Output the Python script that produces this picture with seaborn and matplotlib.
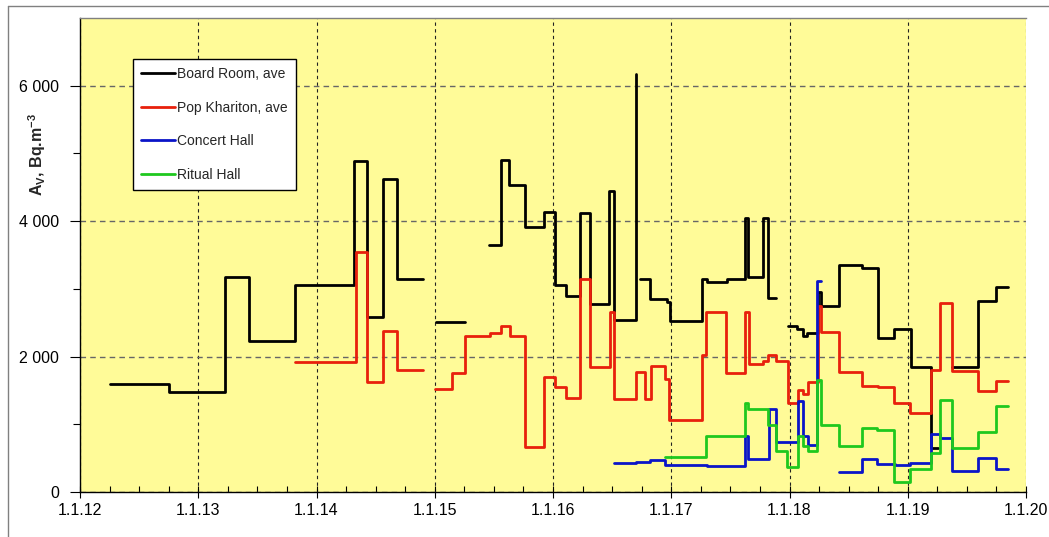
import numpy as np
import pandas as pd
import matplotlib
matplotlib.use("Agg")
import matplotlib.pyplot as plt
import seaborn as sns
from matplotlib.lines import Line2D

nan = np.nan

# ---- data (decimal years; NaN marks a gap between measuring periods) ----
board_t = [2012.25, 2012.75, 2013.23, 2013.43, 2013.82, 2014.32, 2014.43, 2014.56, 2014.68, 2014.90, nan,
           2015.01, 2015.26, nan,
           2015.46, 2015.56, 2015.63, 2015.76, 2015.92, 2016.02, 2016.11, 2016.23, 2016.31, 2016.47,
           2016.52, 2016.70, 2016.705, nan,
           2016.735, 2016.82, 2016.96, 2016.99, 2017.26, 2017.30, 2017.47, 2017.62, 2017.65, 2017.78,
           2017.82, 2017.89, nan,
           2017.99, 2018.06, 2018.11, 2018.15, 2018.24, 2018.27, 2018.42, 2018.61, 2018.75, 2018.88,
           2019.03, 2019.20, 2019.26, nan,
           2019.37, 2019.59, 2019.75, 2019.85]
board_v = [1600, 1475, 3180, 2230, 3060, 4890, 2590, 4620, 3140, 3140, nan,
           2510, 2510, nan,
           3655, 4900, 4530, 3920, 4130, 3050, 2900, 4120, 2770, 4450,
           2540, 6170, 6170, nan,
           3140, 2850, 2800, 2530, 3140, 3100, 3140, 4050, 3180, 4050,
           2870, 2870, nan,
           2450, 2410, 2300, 2350, 2960, 2750, 3350, 3310, 2280, 2410,
           1840, 650, 650, nan,
           1840, 2820, 3030, 3030]

pop_t = [2013.82, 2014.33, 2014.43, 2014.56, 2014.68, 2014.90, nan,
         2015.00, 2015.15, 2015.26, 2015.47, 2015.56, 2015.64, 2015.76, 2015.92, 2016.02, 2016.11,
         2016.23, 2016.31, 2016.48, 2016.52, 2016.70, 2016.78, 2016.83, 2016.95, 2016.98, 2017.26,
         2017.29, 2017.46, 2017.62, 2017.66, 2017.78, 2017.82, 2017.89, 2017.99, 2018.07, 2018.11,
         2018.16, 2018.24, 2018.27, 2018.42, 2018.61, 2018.75, 2018.88, 2019.02, 2019.20, 2019.27,
         2019.37, 2019.59, 2019.75, 2019.85]
pop_v = [1920, 3550, 1620, 2380, 1800, 1800, nan,
         1520, 1755, 2310, 2350, 2455, 2310, 670, 1695, 1545, 1385,
         3140, 1840, 2660, 1370, 1770, 1370, 1860, 1665, 1070, 2020,
         2660, 1755, 2660, 1890, 1930, 2020, 1930, 1310, 1500, 1440,
         1620, 2750, 2360, 1770, 1560, 1545, 1320, 1170, 1800, 2790,
         1790, 1490, 1640, 1640]

concert_t = [2016.52, 2016.70, 2016.82, 2016.95, 2017.30, 2017.62, 2017.65, 2017.83, 2017.89, 2018.07,
             2018.11, 2018.16, 2018.23, 2018.27, nan,
             2018.42, 2018.61, 2018.74, 2018.89, 2019.02, 2019.20, 2019.27, 2019.37, 2019.59, 2019.75,
             2019.85]
concert_v = [430, 445, 475, 400, 385, 830, 490, 1220, 740, 1340,
             830, 700, 3110, 3110, nan,
             300, 490, 415, 395, 430, 850, 800, 310, 500, 340,
             340]

ritual_t = [2016.95, 2017.29, 2017.62, 2017.65, 2017.82, 2017.89, 2017.98, 2018.07, 2018.11, 2018.16,
            2018.23, 2018.27, 2018.42, 2018.61, 2018.74, 2018.88, 2019.02, 2019.20, 2019.27, 2019.37,
            2019.59, 2019.75, 2019.85]
ritual_v = [520, 830, 1310, 1230, 985, 600, 370, 830, 680, 600,
            1660, 990, 680, 950, 910, 150, 340, 575, 1360, 650,
            890, 1265, 1265]

series_names = ["Board Room, ave", "Pop Khariton, ave", "Concert Hall", "Ritual Hall"]
series_colors = ["#000000", "#e8200c", "#0a14c8", "#1ec81e"]

x_ticks = [2012, 2013, 2014, 2015, 2016, 2017, 2018, 2019, 2020]
x_labels = ["1.1.12", "1.1.13", "1.1.14", "1.1.15", "1.1.16", "1.1.17", "1.1.18", "1.1.19", "1.1.20"]
y_ticks = [0, 2000, 4000, 6000]
y_labels = ["0", "2 000", "4 000", "6 000"]


def to_frame(t, v, name):
    rows = []
    seg = 0
    for ti, vi in zip(t, v):
        if np.isnan(vi):
            seg += 1
            continue
        rows.append((name, seg, ti, vi))
    return pd.DataFrame(rows, columns=["series", "seg", "t", "v"])


frames = [to_frame(board_t, board_v, series_names[0]),
          to_frame(pop_t, pop_v, series_names[1]),
          to_frame(concert_t, concert_v, series_names[2]),
          to_frame(ritual_t, ritual_v, series_names[3])]

sns.set_theme(style="ticks")
plt.rcParams["font.family"] = ["Liberation Sans", "DejaVu Sans"]
plt.rcParams["mathtext.fontset"] = "custom"
plt.rcParams["mathtext.rm"] = "Liberation Sans"
plt.rcParams["mathtext.bf"] = "Liberation Sans:bold"
plt.rcParams["mathtext.it"] = "Liberation Sans:italic"

W, H = 1049, 537
fig = plt.figure(figsize=(W / 100, H / 100), dpi=100)
fig.patch.set_facecolor("white")
ax = fig.add_axes([80 / W, 45 / H, 946 / W, 474 / H])
ax.set_facecolor("#FFFB98")

for df, c in zip(frames, series_colors):
    sns.lineplot(data=df, x="t", y="v", units="seg", estimator=None, sort=False,
                 drawstyle="steps-post", color=c, linewidth=2.0, ax=ax, legend=False)

ax.set_xlim(2012, 2020)
ax.set_ylim(0, 7000)
ax.set_xticks(x_ticks)
ax.set_xticklabels(x_labels)
ax.set_xticks(np.arange(2012, 2020.001, 0.25), minor=True)
ax.set_yticks(y_ticks)
ax.set_yticklabels(y_labels)
ax.set_yticks([1000, 3000, 5000], minor=True)
ax.set_xlabel("")
ax.set_ylabel("")

ax.set_axisbelow(True)
ax.grid(False)
ax.xaxis.grid(True, which="major", color="#222222", linestyle=(0, (3, 3)), linewidth=0.8)
ax.yaxis.grid(True, which="major", color="#666666", linestyle=(0, (4, 3)), linewidth=1.0)

ax.tick_params(axis="x", which="major", direction="inout", length=8, width=0.8,
               labelsize=11.5, pad=4, colors="black")
ax.tick_params(axis="x", which="minor", direction="in", length=4, width=0.8, colors="black")
ax.tick_params(axis="y", which="major", direction="out", length=7, width=0.8,
               labelsize=11.5, pad=8, colors="black")
ax.tick_params(axis="y", which="minor", direction="out", length=5, width=0.8, colors="black")

for s in ["left", "bottom"]:
    ax.spines[s].set_color("black")
    ax.spines[s].set_linewidth(1.0)
ax.spines["top"].set_color("#808080")
ax.spines["top"].set_linewidth(1.0)
ax.spines["right"].set_visible(False)

fig.text(37 / W, 1 - 155 / H, r"$\mathbf{A_{V}}$, Bq.m$\mathbf{^{-3}}$", rotation=90,
         ha="center", va="center", fontsize=11.5, fontweight="bold")

handles = [Line2D([], [], color=c, linewidth=2.0) for c in series_colors]
leg = ax.legend(handles, series_names, loc="upper left", bbox_to_anchor=(0.056, 0.9135),
                borderaxespad=0, frameon=True, fancybox=False, edgecolor="black",
                facecolor="white", framealpha=1, fontsize=10, labelspacing=1.4,
                handlelength=2.4, handletextpad=0.2, borderpad=0.6)
leg.get_frame().set_linewidth(1.0)

fig.add_artist(Line2D([8 / W, 8 / W], [0, 1 - 6 / H], transform=fig.transFigure,
                      color="#808080", linewidth=1.0))
fig.add_artist(Line2D([8 / W, 1], [1 - 6 / H, 1 - 6 / H], transform=fig.transFigure,
                      color="#808080", linewidth=1.0))

fig.savefig("out.png", dpi=100)
